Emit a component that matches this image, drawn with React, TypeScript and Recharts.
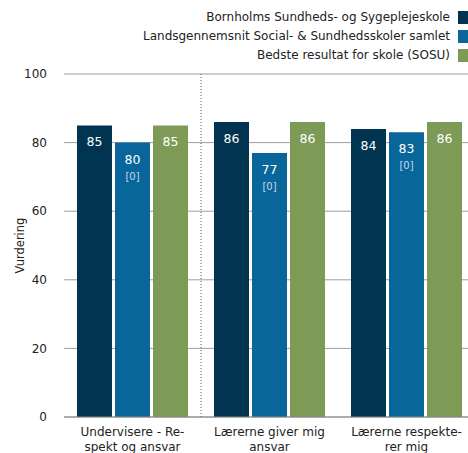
import React from "react";
import { BarChart, Bar, XAxis, YAxis, CartesianGrid, LabelList, ReferenceLine, Label } from "recharts";

const categories = ["Undervisere - Respekt og ansvar", "Lærerne giver mig ansvar", "Lærerne respekterer mig"];
const tickLines = [["Undervisere - Re-", "spekt og ansvar"], ["Lærerne giver mig", "ansvar"], ["Lærerne respekte-", "rer mig"]];
const seriesNames = ["Bornholms Sundheds- og Sygeplejeskole", "Landsgennemsnit Social- & Sundhedsskoler samlet", "Bedste resultat for skole (SOSU)"];
const bornholm = [85, 86, 84];
const lands = [80, 77, 83];
const landsN = [0, 0, 0];
const best = [85, 86, 86];
const yTicks = [0, 20, 40, 60, 80, 100];
const colors = ["#003450", "#08669B", "#7E9A57"];

const data = categories.map((c, i) => ({ cat: c, idx: i, a: bornholm[i], b: lands[i], n: landsN[i], c: best[i] }));

const FONT = "'DejaVu Sans', sans-serif";

const Tick = (props: any) => {
  const { x, y, payload } = props;
  const lines = tickLines[payload.index] || [payload.value];
  return (
    <g>
      {lines.map((l: string, k: number) => (
        <text key={k} x={x} y={y + 11 + k * 15} textAnchor="middle" fill="#222" fontSize={12} fontFamily={FONT}>{l}</text>
      ))}
    </g>
  );
};

const valLabel = (props: any) => {
  const { x, y, width, value } = props;
  return (
    <text x={x + width / 2} y={y + 21} textAnchor="middle" fill="#fff" fontSize={12.5} fontFamily={FONT}>{value}</text>
  );
};

const valLabelN = (props: any) => {
  const { x, y, width, value, index } = props;
  return (
    <g>
      <text x={x + width / 2} y={y + 21} textAnchor="middle" fill="#fff" fontSize={12.5} fontFamily={FONT}>{value}</text>
      <text x={x + width / 2} y={y + 37} textAnchor="middle" fill="#c6d8e8" fontSize={10} fontFamily={FONT}>[{landsN[index]}]</text>
    </g>
  );
};

export default function App() {
  return (
    <div style={{ position: "absolute", left: 0, top: 0, width: 468, height: 453, background: "#fff", overflow: "hidden" }}>
      <BarChart width={475} height={453} data={data} margin={{ top: 74, right: 0, left: 0, bottom: 0 }} barGap={3} barSize={35} barCategoryGap={13}>
        <CartesianGrid vertical={false} stroke="#9e9e9e" />
        <XAxis dataKey="cat" tick={<Tick />} tickLine={false} axisLine={{ stroke: "#888" }} height={36} interval={0} />
        <YAxis domain={[0, 100]} ticks={yTicks} width={64} axisLine={false} tickLine={false} tick={{ fill: "#222", fontSize: 12, fontFamily: FONT }} tickMargin={11}>
          <Label value="Vurdering" angle={-90} position="insideLeft" offset={20} style={{ fill: "#222", fontSize: 11.5, fontFamily: FONT, textAnchor: "middle" }} />
        </YAxis>
        <ReferenceLine x={categories[0]} position="end" stroke="#555" strokeDasharray="1 2" />
        <Bar dataKey="a" fill={colors[0]} isAnimationActive={false}>
          <LabelList dataKey="a" content={valLabel} />
        </Bar>
        <Bar dataKey="b" fill={colors[1]} isAnimationActive={false}>
          <LabelList dataKey="b" content={valLabelN} />
        </Bar>
        <Bar dataKey="c" fill={colors[2]} isAnimationActive={false}>
          <LabelList dataKey="c" content={valLabel} />
        </Bar>
      </BarChart>
      <div style={{ position: "absolute", right: -3, top: 8, fontFamily: FONT, fontSize: 12, color: "#222" }}>
        {seriesNames.map((s, i) => (
          <div key={i} style={{ display: "flex", justifyContent: "flex-end", alignItems: "center", height: 19, lineHeight: "19px" }}>
            <span style={{ marginRight: 8, whiteSpace: "nowrap" }}>{s}</span>
            <span style={{ display: "inline-block", width: 13, height: 13, background: colors[i] }} />
          </div>
        ))}
      </div>
    </div>
  );
}
